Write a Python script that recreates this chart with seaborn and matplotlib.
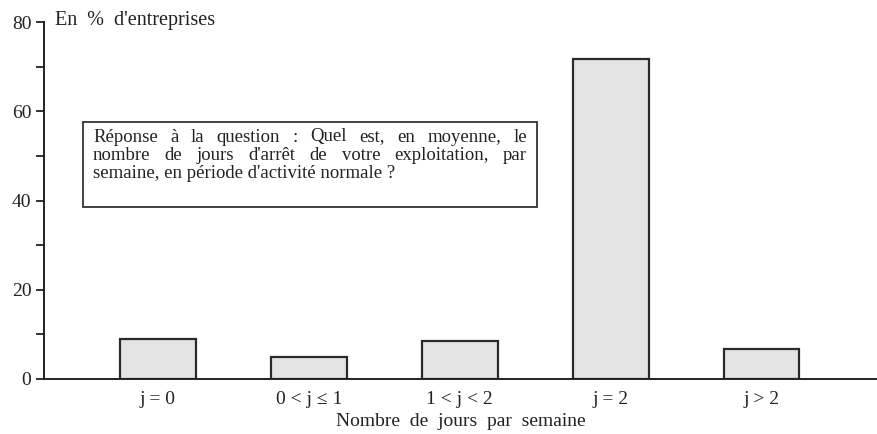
import matplotlib
matplotlib.use("Agg")
import matplotlib.pyplot as plt
import seaborn as sns
import pandas as pd
from matplotlib.patches import Rectangle

categories = ["j = 0", "0 < j ≤ 1", "1 < j < 2", "j = 2", "j > 2"]
values = [9.0, 5.0, 8.5, 71.7, 6.7]
major_ticks = [0, 20, 40, 60, 80]
minor_ticks = [10, 30, 50, 70]

box_lines = [
    "Réponse à la question : Quel est, en moyenne, le",
    "nombre de jours d'arrêt de votre exploitation, par",
    "semaine, en période d'activité normale ?",
]

sns.set_theme(style="white")
plt.rcParams["font.family"] = ["Liberation Serif", "DejaVu Serif"]

df = pd.DataFrame({"cat": categories, "val": values})

fig = plt.figure(figsize=(8.78, 4.34), dpi=100)
ax = fig.add_axes([0.050, 0.127, 0.950, 0.822])

sns.barplot(data=df, x="cat", y="val", color="#e4e4e4", edgecolor="#2a2a2a",
            linewidth=1.6, width=0.5, saturation=1, ax=ax)

ax.set_xlim(-0.755, 4.77)
ax.set_ylim(0, 80)
ax.set_yticks(major_ticks)
ax.set_yticks(minor_ticks, minor=True)
ax.tick_params(axis="y", which="both", direction="out", length=6, width=1.3,
               color="#222222", labelsize=14, pad=3, left=True)
ax.tick_params(axis="x", length=0, labelsize=14, pad=9)
for lbl in ax.get_yticklabels() + ax.get_xticklabels():
    lbl.set_color("#222222")

sns.despine(ax=ax, top=True, right=True)
for s in ["left", "bottom"]:
    ax.spines[s].set_linewidth(1.4)
    ax.spines[s].set_color("#222222")

ax.set_xlabel("Nombre  de  jours  par  semaine", fontsize=14, color="#222222", labelpad=3)
ax.set_ylabel("")

fig.text(55 / 878, 1 - 20 / 434, "En  %  d'entreprises", fontsize=14.5,
         color="#222222", ha="left", va="center")

fig.patches.append(Rectangle((83 / 878, 1 - 207 / 434), 454 / 878, 85 / 434,
                             transform=fig.transFigure, fill=False,
                             edgecolor="#333333", linewidth=1.3))

# justified text lines inside box
box_fs = 13.5
fig.canvas.draw()
renderer = fig.canvas.get_renderer()
x_left, x_right = 93, 527
y_lines = [137, 155.5, 174]
for i, (line, yy) in enumerate(zip(box_lines, y_lines)):
    words = line.split(" ")
    if i < len(box_lines) - 1:
        widths = []
        for w in words:
            t = fig.text(0, 0, w, fontsize=box_fs)
            widths.append(t.get_window_extent(renderer).width)
            t.remove()
        gap = (x_right - x_left - sum(widths)) / (len(words) - 1)
        xx = x_left
        for w, wd in zip(words, widths):
            fig.text(xx / 878, 1 - yy / 434, w, fontsize=box_fs, color="#222222",
                     ha="left", va="center")
            xx += wd + gap
    else:
        fig.text(x_left / 878, 1 - yy / 434, line, fontsize=box_fs, color="#222222",
                 ha="left", va="center")

fig.savefig("out.png", dpi=100, facecolor="white")
